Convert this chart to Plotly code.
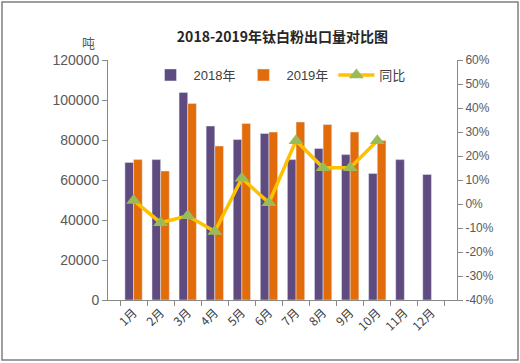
import plotly.graph_objects as go

months = ["1月", "2月", "3月", "4月", "5月", "6月", "7月", "8月", "9月", "10月", "11月", "12月"]
v2018 = [68800, 70200, 103800, 87000, 80200, 83300, 70200, 75800, 72700, 63300, 70200, 62800]
v2019 = [70200, 64500, 98300, 77000, 88300, 84000, 89000, 87700, 84000, 79700, None, None]
yoy = [1.5, -7.8, -4.9, -11.5, 10.7, 0.5, 26.4, 15.1, 15.1, 26.4, None, None]
right_ticks = list(range(-40, 61, 10))

FONT = "Liberation Sans, Arial, Noto Sans CJK SC, sans-serif"
CJK = "Noto Sans CJK SC, sans-serif"
GREY = "#898989"
TXT = "#595959"

fig = go.Figure()
fig.add_trace(go.Bar(x=months, y=v2018, name="2018年", marker_color="#5F4B7F"))
fig.add_trace(go.Bar(x=months, y=v2019, name="2019年", marker_color="#E36C0A"))
fig.add_trace(go.Scatter(x=months, y=yoy, name="同比", yaxis="y2", mode="lines+markers",
                         line=dict(color="#FFC000", width=3.5),
                         marker=dict(symbol="triangle-up", size=13, color="#9BBB59")))

W, H = 520, 363
L, R, T, B = 108, 63, 60, 63
pw, ph = W - L - R, H - T - B

fig.update_layout(
    width=W, height=H,
    margin=dict(l=L, r=R, t=T, b=B),
    paper_bgcolor="white", plot_bgcolor="white",
    font=dict(family=FONT, color=TXT, size=13),
    barmode="group", bargap=0.36, bargroupgap=0,
    showlegend=True,
    legend=dict(orientation="h", x=0.49, xanchor="center", y=1.0, yanchor="top",
                font=dict(size=13, color="#404040", family=FONT + ", " + CJK),
                bgcolor="rgba(0,0,0,0)", itemwidth=36, traceorder="normal"),
    title=dict(text="<b>2018-2019年钛白粉出口量对比图</b>", x=(L + pw / 2) / W, xanchor="center",
               y=1 - 37 / H, yanchor="middle", font=dict(size=14, color="#262626", family=CJK)),
    xaxis=dict(showline=True, linecolor=GREY, linewidth=1, ticks="outside", tickson="boundaries",
               ticklen=5, tickcolor=GREY, tickangle=-45, showgrid=False,
               tickfont=dict(size=12, family=CJK, color="#404040")),
    yaxis=dict(range=[0, 120000], dtick=20000, showline=True, linecolor=GREY, linewidth=1,
               ticks="outside", ticklen=5, tickcolor=GREY, showgrid=False, zeroline=False,
               tickformat="d", tickfont=dict(size=14, color=TXT)),
    yaxis2=dict(range=[-40, 60], tickvals=right_ticks, ticktext=[f"{v}%" for v in right_ticks],
                overlaying="y", side="right", showline=True, linecolor=GREY, linewidth=1,
                ticks="outside", ticklen=5, tickcolor=GREY, showgrid=False, zeroline=False,
                tickfont=dict(size=12, color=TXT)),
    annotations=[dict(text="吨", xref="paper", yref="paper", x=(88 - L) / pw, y=1 + (60 - 42) / ph,
                      xanchor="center", yanchor="middle", showarrow=False,
                      font=dict(size=13, family=CJK, color=TXT))],
    shapes=[dict(type="rect", xref="paper", yref="paper",
                 x0=(2 - L) / pw, x1=(W - 2 - L) / pw,
                 y0=-(H - 3 - T - ph) / ph, y1=1 + (T - 2) / ph,
                 line=dict(color="#7f7f7f", width=1.5), layer="below")],
)

fig.write_html("out.html", config={"displayModeBar": False},
               post_script="document.body.style.margin='0';document.body.style.overflow='hidden';")
